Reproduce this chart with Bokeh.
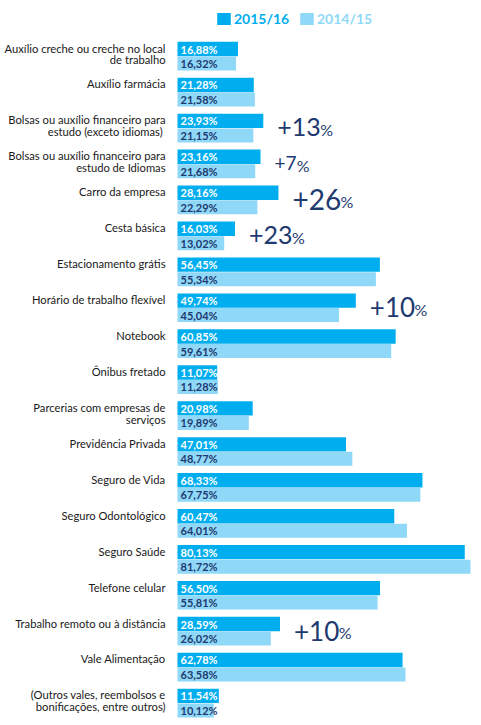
from bokeh.plotting import figure
from bokeh.models import Range1d, ColumnDataSource, Legend, LegendItem
from bokeh.core.properties import value
from bokeh.embed import file_html
from bokeh.resources import INLINE

# ---------------- data ----------------
categories = [
    "Auxílio creche ou creche no local\nde trabalho",
    "Auxílio farmácia",
    "Bolsas ou auxílio financeiro para\nestudo (exceto  idiomas)",
    "Bolsas ou auxílio financeiro para\nestudo de Idiomas",
    "Carro da empresa",
    "Cesta básica",
    "Estacionamento grátis",
    "Horário de trabalho flexível",
    "Notebook",
    "Ônibus fretado",
    "Parcerias com empresas de\nserviços",
    "Previdência Privada",
    "Seguro de Vida",
    "Seguro Odontológico",
    "Seguro Saúde",
    "Telefone celular",
    "Trabalho remoto ou à distância",
    "Vale Alimentação",
    "(Outros vales, reembolsos e\nbonificações, entre outros)",
]
series_names = ["2015/16", "2014/15"]
v_2015_16 = [16.88, 21.28, 23.93, 23.16, 28.16, 16.03, 56.45, 49.74, 60.85, 11.07,
             20.98, 47.01, 68.33, 60.47, 80.13, 56.50, 28.59, 62.78, 11.54]
v_2014_15 = [16.32, 21.58, 21.15, 21.68, 22.29, 13.02, 55.34, 45.04, 59.61, 11.28,
             19.89, 48.77, 67.75, 64.01, 81.72, 55.81, 26.02, 63.58, 10.12]

# growth call-outs: category index and text
growth_idx = [2, 3, 4, 5, 7, 16]
growth_txt = ["+13", "+7", "+26", "+23", "+10", "+10"]

# ---------------- style / layout ----------------
W, H = 481, 725
PX_PER_PCT = 3.585
X0_PX = 177
growth_font_px = [25, 19, 28, 25, 26, 26]

C_DARK = "#00aeef"
C_LIGHT = "#8fd8f7"
C_NAVY = "#1e3a70"
FONT = "Lato"

def fmt(v):
    return f"{v:.2f}".replace(".", ",") + "%"

n = len(categories)
tops = [41 + i * 35.94 for i in range(n)]

p = figure(width=W, height=H,
           x_range=Range1d(-X0_PX / PX_PER_PCT, (W - X0_PX) / PX_PER_PCT),
           y_range=Range1d(H, 0),
           output_backend="svg", toolbar_location=None,
           x_axis_type=None, y_axis_type=None, min_border=0,
           outline_line_color=None)
p.grid.visible = False
p.background_fill_color = "white"

src = ColumnDataSource(dict(
    y_dark=[t + 7.5 for t in tops],
    y_light=[t + 22.0 for t in tops],
    v_dark=v_2015_16,
    v_light=v_2014_15,
    lab_dark=[fmt(v) for v in v_2015_16],
    lab_light=[fmt(v) for v in v_2014_15],
))

r_dark = p.hbar(y="y_dark", right="v_dark", left=0, height=14.4, source=src,
                fill_color=C_DARK, line_color=None)
r_light = p.hbar(y="y_light", right="v_light", left=0, height=14.0, source=src,
                 fill_color=C_LIGHT, line_color=None)

bar_font = value("'Liberation Sans Narrow', Lato")
p.text(x=0, y="y_dark", text="lab_dark", source=src, x_offset=3,
       text_baseline="middle", text_align="left", text_color="white",
       text_font=bar_font, text_font_style="bold", text_font_size="11px")
p.text(x=0, y="y_light", text="lab_light", source=src, x_offset=3,
       text_baseline="middle", text_align="left", text_color=C_NAVY,
       text_font=bar_font, text_font_style="bold", text_font_size="11px")

# category labels (multi-line, right aligned)
lx, ly, lt = [], [], []
for i, c in enumerate(categories):
    for k, line in enumerate(c.split("\n")):
        lx.append(0)
        ly.append(tops[i] + 6.5 + k * 11.8)
        lt.append(line)
p.text(x=lx, y=ly, text=lt, x_offset=-12, text_align="right",
       text_baseline="alphabetic", text_color="#1a1a1a",
       text_font=value(FONT), text_font_size="11.2px")

# growth call-outs
for j, i in enumerate(growth_idx):
    xb = max(v_2015_16[i], v_2014_15[i])
    fs = growth_font_px[j]
    yb = tops[i] + 14
    p.text(x=[xb], y=[yb], text=[growth_txt[j]], x_offset=14,
           text_align="left", text_baseline="alphabetic", text_color=C_NAVY,
           text_font=value(FONT), text_font_size=f"{fs}px")
    wnum = len(growth_txt[j]) * 0.56 * fs
    p.text(x=[xb], y=[yb + 2], text=["%"], x_offset=14 + wnum + 1,
           text_align="left", text_baseline="alphabetic", text_color=C_NAVY,
           text_font=value(FONT), text_font_size="16px")

# legend
def mk_legend(label, rend, xloc, color):
    return Legend(items=[LegendItem(label=label, renderers=[rend])],
                  location=(xloc, H - 27), orientation="horizontal",
                  glyph_width=17, glyph_height=15, label_height=15,
                  label_standoff=2, padding=0, margin=0, spacing=0,
                  border_line_color=None, background_fill_alpha=0,
                  label_text_font=FONT, label_text_font_style="bold",
                  label_text_font_size="14px", label_text_color=color)

p.add_layout(mk_legend(series_names[0], r_dark, 215, C_DARK))
p.add_layout(mk_legend(series_names[1], r_light, 298, C_LIGHT))

open("out.html", "w").write(file_html(p, INLINE))
